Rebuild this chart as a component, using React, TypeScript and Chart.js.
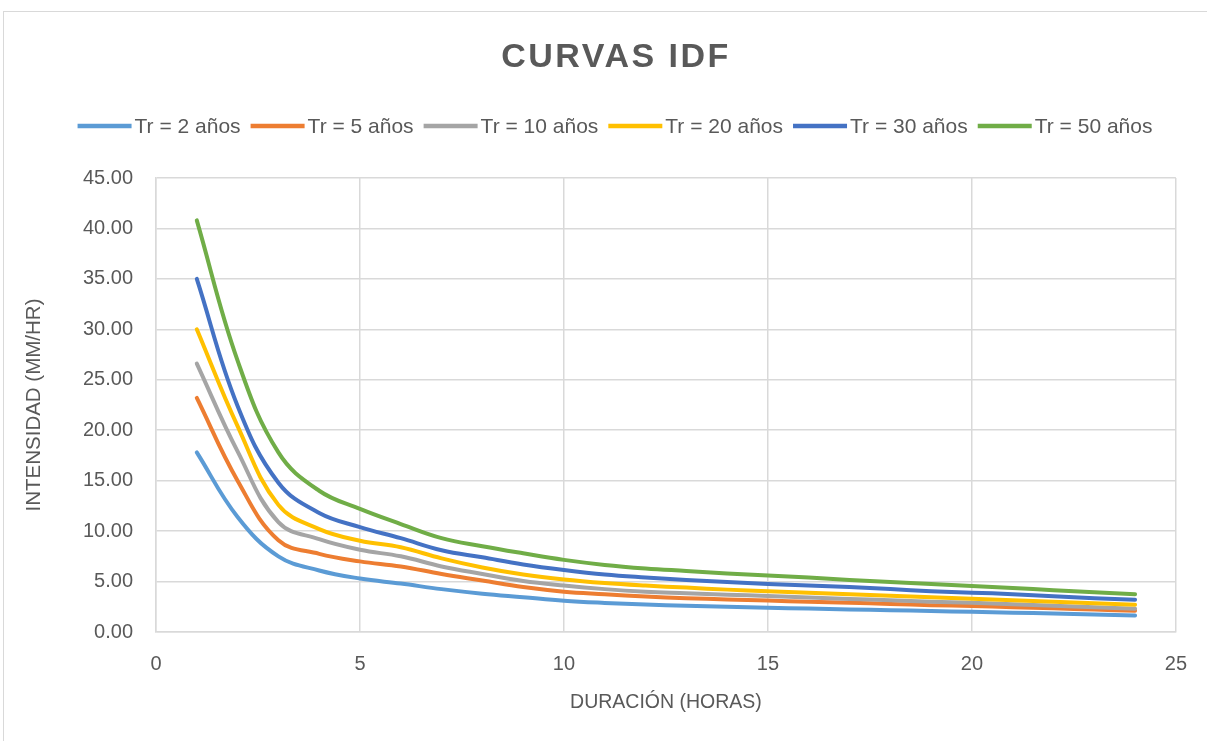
import React, { useEffect, useRef } from "react";
import { Chart, registerables } from "chart.js";

Chart.register(...registerables);

const chartTitle = "CURVAS IDF";
const xAxisTitle = "DURACIÓN (HORAS)";
const yAxisTitle = "INTENSIDAD (MM/HR)";

const durations = [1, 2, 3, 4, 5, 6, 7, 8, 9, 10, 11, 12, 13, 14, 15, 16, 17, 18, 19, 20, 21, 22, 23, 24];

const seriesLabels = ["Tr = 2 años", "Tr = 5 años", "Tr = 10 años", "Tr = 20 años", "Tr = 30 años", "Tr = 50 años"];
const seriesColors = ["#5B9BD5", "#ED7D31", "#A5A5A5", "#FFC000", "#4472C4", "#70AD47"];

const tr2 = [17.8, 11.4, 7.5, 6.1, 5.3, 4.8, 4.25, 3.8, 3.45, 3.1, 2.88, 2.72, 2.6, 2.5, 2.4, 2.32, 2.24, 2.16, 2.08, 2.0, 1.92, 1.83, 1.73, 1.63];
const tr5 = [23.2, 15.0, 9.1, 7.75, 7.0, 6.5, 5.75, 5.1, 4.45, 4.0, 3.75, 3.52, 3.35, 3.23, 3.12, 3.0, 2.9, 2.78, 2.66, 2.58, 2.46, 2.35, 2.22, 2.1];
const tr10 = [26.6, 17.9, 10.9, 9.2, 8.15, 7.5, 6.5, 5.75, 5.05, 4.6, 4.25, 4.0, 3.85, 3.7, 3.57, 3.42, 3.28, 3.14, 3.0, 2.9, 2.75, 2.6, 2.45, 2.3];
const tr20 = [30.0, 20.4, 12.6, 10.2, 9.05, 8.4, 7.3, 6.4, 5.7, 5.2, 4.85, 4.6, 4.4, 4.2, 4.05, 3.9, 3.75, 3.6, 3.45, 3.3, 3.15, 3.0, 2.85, 2.7];
const tr30 = [35.0, 22.4, 14.8, 11.8, 10.4, 9.3, 8.1, 7.4, 6.7, 6.15, 5.7, 5.4, 5.15, 4.95, 4.75, 4.6, 4.45, 4.25, 4.05, 3.9, 3.75, 3.55, 3.35, 3.2];
const tr50 = [40.8, 26.9, 17.8, 14.0, 12.2, 10.7, 9.3, 8.5, 7.8, 7.15, 6.65, 6.3, 6.05, 5.8, 5.6, 5.4, 5.15, 4.95, 4.75, 4.55, 4.35, 4.15, 3.95, 3.75];

const seriesValues = [tr2, tr5, tr10, tr20, tr30, tr50];

const yTicks = [0, 5, 10, 15, 20, 25, 30, 35, 40, 45];
const xTicks = [0, 5, 10, 15, 20, 25];

const FONT = "'Liberation Sans', Arial, sans-serif";
const TEXT = "#595959";
const GRID = "#d9d9d9";

const framePlugin = {
  id: "frame",
  beforeDraw(chart: any) {
    const ctx = chart.ctx;
    ctx.save();
    ctx.fillStyle = "#ffffff";
    ctx.fillRect(0, 0, chart.width, chart.height);
    ctx.strokeStyle = GRID;
    ctx.lineWidth = 1;
    ctx.strokeRect(3.5, 11.5, 1400, 900);
    ctx.restore();
  },
};

const headerPlugin = {
  id: "header",
  afterDraw(chart: any) {
    const ctx = chart.ctx;
    const cx = 616;
    ctx.save();
    ctx.font = `bold 34px ${FONT}`;
    (ctx as any).letterSpacing = "2.5px";
    ctx.fillStyle = TEXT;
    ctx.textBaseline = "middle";
    ctx.textAlign = "left";
    const tw = ctx.measureText(chartTitle).width;
    ctx.fillText(chartTitle, cx - tw / 2, 58);
    (ctx as any).letterSpacing = "0px";
    const lineW = 54;
    const gap = 3;
    const itemGap = 10;
    ctx.font = `21px ${FONT}`;
    const datasets = chart.data.datasets;
    const widths = datasets.map((d: any) => ctx.measureText(d.label).width);
    const total = widths.reduce((a: number, w: number) => a + lineW + gap + w, 0) + itemGap * (datasets.length - 1);
    let x = cx - 1 - total / 2;
    const y = 126;
    datasets.forEach((d: any, i: number) => {
      ctx.strokeStyle = d.borderColor;
      ctx.lineWidth = 4.5;
      ctx.lineCap = "butt";
      ctx.beginPath();
      ctx.moveTo(x, y);
      ctx.lineTo(x + lineW, y);
      ctx.stroke();
      ctx.fillStyle = TEXT;
      ctx.fillText(d.label, x + lineW + gap, y + 1);
      x += lineW + gap + widths[i] + itemGap;
    });
    ctx.restore();
  },
};

export default function App() {
  const ref = useRef<HTMLCanvasElement>(null);
  useEffect(() => {
    if (!ref.current) return;
    const datasets = seriesLabels.map((label, i) => ({
      label,
      data: durations.map((d, j) => ({ x: d, y: seriesValues[i][j] })),
      borderColor: seriesColors[i],
      backgroundColor: seriesColors[i],
      borderWidth: 4,
      pointRadius: 0,
      pointHoverRadius: 0,
      tension: 0.4,
      fill: false,
      borderCapStyle: "round" as const,
      order: seriesLabels.length - i,
    }));
    const chart = new Chart(ref.current, {
      type: "line",
      data: { datasets },
      plugins: [framePlugin, headerPlugin],
      options: {
        animation: false,
        responsive: false,
        devicePixelRatio: 1,
        layout: { padding: { top: 178, right: 30, bottom: 0, left: 0 } },
        plugins: {
          legend: { display: false },
          title: { display: false },
          tooltip: { enabled: false },
        },
        scales: {
          x: {
            type: "linear",
            min: 0,
            max: 25,
            afterFit: (s: any) => {
              s.height = 109;
            },
            afterBuildTicks: (s: any) => {
              s.ticks = xTicks.map((v) => ({ value: v }));
            },
            ticks: {
              color: TEXT,
              font: { family: FONT, size: 20 },
              padding: 20,
              maxRotation: 0,
            },
            grid: { color: GRID, lineWidth: 1.5, drawTicks: false },
            border: { color: GRID, width: 1.5 },
            title: {
              display: true,
              text: xAxisTitle,
              color: TEXT,
              font: { family: FONT, size: 19.5 },
              padding: { top: 0, bottom: 27 },
            },
          },
          y: {
            type: "linear",
            min: 0,
            max: 45,
            afterFit: (s: any) => {
              s.width = 156;
            },
            afterBuildTicks: (s: any) => {
              s.ticks = yTicks.map((v) => ({ value: v }));
            },
            ticks: {
              color: TEXT,
              font: { family: FONT, size: 20 },
              padding: 23,
              callback: (v: any) => Number(v).toFixed(2),
            },
            grid: { color: GRID, lineWidth: 1.5, drawTicks: false },
            border: { color: GRID, width: 1.5 },
            title: {
              display: true,
              text: yAxisTitle,
              color: TEXT,
              font: { family: FONT, size: 20.5 },
              padding: { top: 22, bottom: 0 },
            },
          },
        },
      },
    });
    return () => chart.destroy();
  }, []);
  return (
    <div style={{ position: "absolute", left: 0, top: 0, width: 1207, height: 741, overflow: "hidden" }}>
      <canvas ref={ref} width={1207} height={741} style={{ width: 1207, height: 741, display: "block" }} />
    </div>
  );
}
